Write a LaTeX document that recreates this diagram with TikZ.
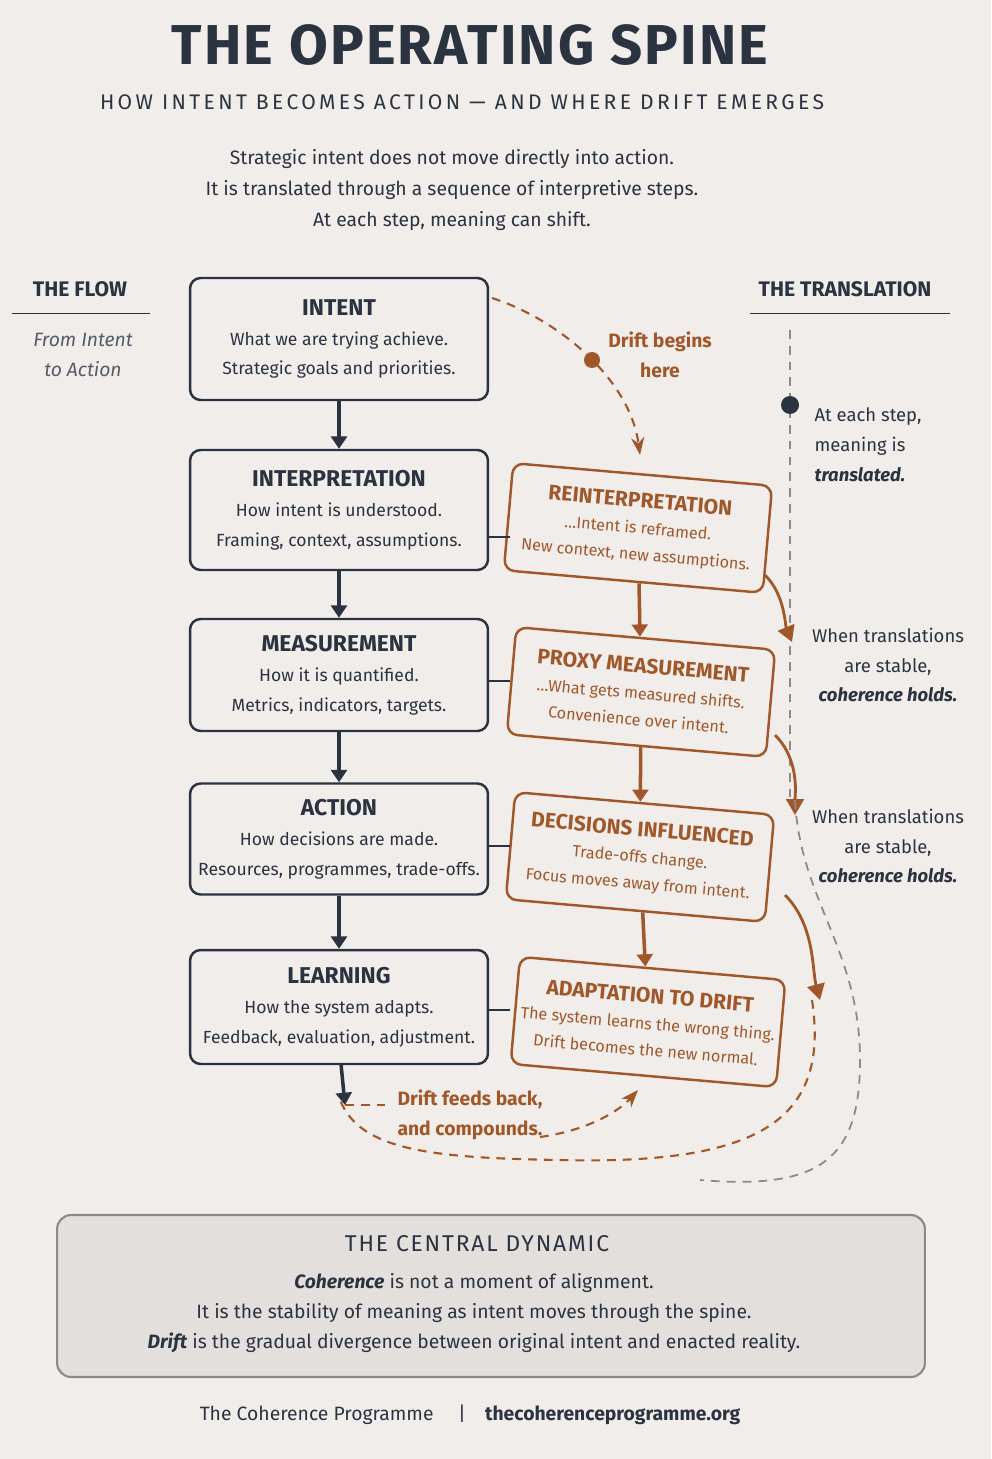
\documentclass[tikz,border=0pt]{standalone}
\usepackage{fontspec}
\setmainfont{Fira Sans}
\usetikzlibrary{positioning,arrows.meta}
\definecolor{navy}{HTML}{2B3340}
\definecolor{rust}{HTML}{A0582A}
\definecolor{paper}{HTML}{F1EDEB}
\definecolor{panel}{HTML}{E3DFDD}
\definecolor{greyline}{HTML}{8A8A8A}
\newcommand\boxhead[1]{{\fontsize{13}{15}\selectfont\bfseries #1}}
\newcommand\drifthead[1]{{\fontsize{12}{14}\selectfont\bfseries #1}}
\tikzset{
  flow/.style={draw=navy,line width=1.4pt,rounded corners=6pt,fill=paper,
    minimum width=5.96cm,align=center,text=navy,font=\fontsize{10}{17}\selectfont},
  drift/.style={draw=rust,line width=1.4pt,rounded corners=6pt,fill=paper,rotate=-5,
    minimum width=5.2cm,minimum height=2.15cm,align=center,text=rust,font=\fontsize{9.2}{15}\selectfont},
  spinearrow/.style={-{Triangle[length=7pt,width=9pt]},line width=2pt},
  curlarrow/.style={-{Triangle[length=9pt,width=10pt]},line width=1.6pt,rust},
  dashline/.style={dash pattern=on 5pt off 4pt,line width=1.2pt}
}
\begin{document}
\begin{tikzpicture}[x=0.02cm,y=-0.02cm]
\fill[paper] (0,0) rectangle (991,1459);
\useasboundingbox (0,0) rectangle (991,1459);
% header
\node[text=navy,font=\fontsize{32}{36}\selectfont\bfseries\addfontfeatures{LetterSpace=4}] (title) at (470,45) {THE OPERATING SPINE};
\node[text=navy,font=\fontsize{12}{14}\selectfont\addfontfeatures{LetterSpace=16}] (sub) at (462,102) {HOW INTENT BECOMES ACTION — AND WHERE DRIFT EMERGES};
\node[text=navy,align=center,font=\fontsize{11}{17.6}\selectfont] (intro) at (452,190)
  {Strategic intent does not move directly into action.\\It is translated through a sequence of interpretive steps.\\At each step, meaning can shift.};
% side columns
\node[text=navy,font=\fontsize{12}{14}\selectfont\bfseries] (flowhd) at (80,289) {THE FLOW};
\draw[navy] (12,313) -- (150,313);
\node[text=navy!80,align=center,font=\fontsize{11}{17}\selectfont\itshape] (flowsub) at (83,355) {From Intent\\to Action};
\node[text=navy,font=\fontsize{12}{14}\selectfont\bfseries] (transhd) at (845,289) {THE TRANSLATION};
\draw[navy] (750,313) -- (950,313);
% left spine
\node[flow,minimum height=2.44cm] (intent) at (339,339) {\boxhead{INTENT}\\What we are trying achieve.\\Strategic goals and priorities.};
\node[flow,minimum height=2.4cm] (interp) at (339,510) {\boxhead{INTERPRETATION}\\How intent is understood.\\Framing, context, assumptions.};
\node[flow,minimum height=2.24cm] (meas) at (339,675) {\boxhead{MEASUREMENT}\\How it is quantified.\\Metrics, indicators, targets.};
\node[flow,minimum height=2.22cm] (action) at (339,839) {\boxhead{ACTION}\\How decisions are made.\\Resources, programmes, trade-offs.};
\node[flow,minimum height=2.28cm] (learn) at (339,1007) {\boxhead{LEARNING}\\How the system adapts.\\Feedback, evaluation, adjustment.};
\foreach \a/\b in {intent/interp,interp/meas,meas/action,action/learn}
  \draw[spinearrow,navy] (\a) -- (\b);
% drift column
\node[drift] (reint) at (638,528) {\drifthead{REINTERPRETATION}\\\dots Intent is reframed.\\New context, new assumptions.};
\node[drift] (proxy) at (641,692) {\drifthead{PROXY MEASUREMENT}\\\dots What gets measured shifts.\\Convenience over intent.};
\node[drift] (decis) at (640,857) {\drifthead{DECISIONS INFLUENCED}\\Trade-offs change.\\Focus moves away from intent.};
\node[drift] (adapt) at (648,1022) {\drifthead{ADAPTATION TO DRIFT}\\The system learns the wrong thing.\\Drift becomes the new normal.};
\foreach \a/\b in {reint/proxy,proxy/decis,decis/adapt}
  \draw[spinearrow,rust] (\a) -- (\b);
\foreach \a/\b/\y in {interp/reint/537,meas/proxy/681,action/decis/846,learn/adapt/1010}
  \draw[navy,line width=1pt] (488,\y) -- (510,\y);
% drift begins
\coordinate (dstart) at (492,298);
\coordinate (dend) at (640,455);
\draw[dashline,rust,-{Stealth[length=10pt]}] (dstart) .. controls (560,320) and (630,380) .. (dend);
\fill[rust] (592,360) circle (8);
\node[text=rust,align=center,font=\fontsize{11}{17}\selectfont\bfseries] (begins) at (660,355) {Drift begins\\here};
% translation line
\draw[dashline,greyline,line width=1pt] (790,330) -- (790,800);
\fill[navy] (790,405) circle (9);
\node[text=navy,align=left,font=\fontsize{10.5}{17}\selectfont] (step) at (868,445) {At each step,\\meaning is\\\textbf{\textit{translated.}}};
\node[text=navy,align=center,font=\fontsize{10.5}{17}\selectfont] (stable1) at (888,665) {When translations\\are stable,\\\textbf{\textit{coherence holds.}}};
\node[text=navy,align=center,font=\fontsize{10.5}{17}\selectfont] (stable2) at (888,846) {When translations\\are stable,\\\textbf{\textit{coherence holds.}}};
\draw[curlarrow] (765,575) .. controls (785,595) and (785,625) .. (792,642);
\draw[curlarrow] (775,735) .. controls (800,760) and (795,795) .. (795,815);
\draw[curlarrow] (785,895) .. controls (815,925) and (812,970) .. (820,1000);
% loops back
\draw[dashline,greyline,line width=1pt] (795,800) .. controls (800,900) and (860,950) .. (860,1060)
  .. controls (860,1160) and (820,1190) .. (700,1180);
\draw[dashline,rust] (812,1000) .. controls (830,1120) and (760,1165) .. (560,1160)
  .. controls (430,1158) and (360,1150) .. (340,1100);
\coordinate (fbtip) at (345,1105);
\draw[spinearrow,navy] (341,1064) -- (fbtip);
\node[text=rust,align=center,font=\fontsize{11}{17}\selectfont\bfseries] (feeds) at (470,1115) {Drift feeds back,\\and compounds.};
\draw[dashline,rust] (fbtip) -- (392,1105);
\draw[dashline,rust,-{Stealth[length=10pt]}] (540,1137) .. controls (590,1130) and (620,1110) .. (638,1090);
% central dynamic
\node[draw=greyline,fill=panel,line width=1.2pt,rounded corners=8pt,minimum width=17.36cm,minimum height=3.24cm] (panel) at (491,1296) {};
\node[text=navy,font=\fontsize{13}{15}\selectfont\addfontfeatures{LetterSpace=8}] (dyn) at (477,1244) {THE CENTRAL DYNAMIC};
\node[text=navy,align=center,font=\fontsize{11}{17}\selectfont] (dyntext) at (474,1313)
  {\textbf{\textit{Coherence}} is not a moment of alignment.\\It is the stability of meaning as intent moves through the spine.\\\textbf{\textit{Drift}} is the gradual divergence between original intent and enacted reality.};
% footer
\node[text=navy,font=\fontsize{11}{13}\selectfont] (foot) at (470,1415) {The Coherence Programme \quad\textbar\quad \textbf{thecoherenceprogramme.org}};
\end{tikzpicture}
\end{document}
